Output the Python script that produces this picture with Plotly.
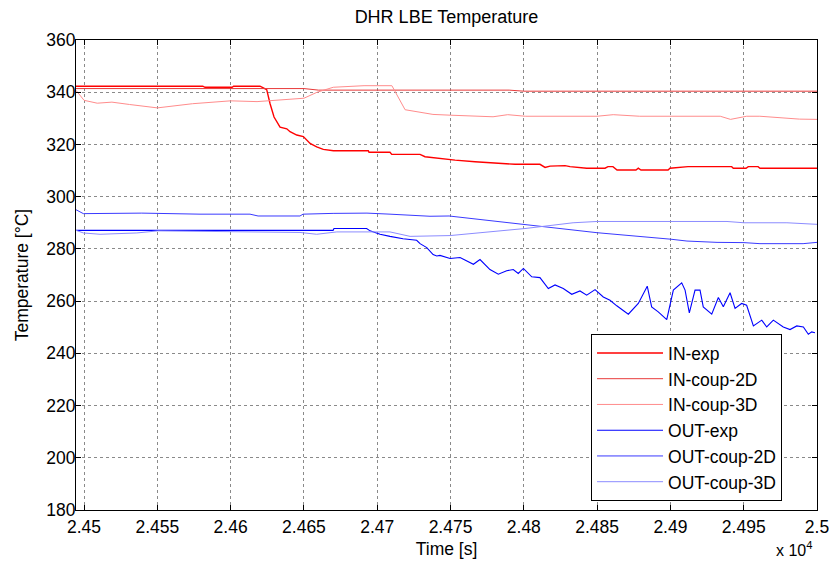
import plotly.graph_objects as go

# ---- data (time in s, temperature in °C) ----
t_in_exp = [24494.5, 24581, 24582.5, 24601, 24602, 24620, 24622.3, 24624.6, 24626.9, 24629.6,
            24633.7, 24638.3, 24640.5, 24645.1, 24649.6, 24654.2, 24658.7, 24663.2, 24670.1,
            24693.9, 24694.4, 24708.7, 24709.9, 24729.2, 24732.6, 24742.8, 24753.1, 24766.7,
            24780.4, 24794.0, 24811.0, 24814.5, 24817.9, 24828.1, 24831.5, 24842.9, 24855.4,
            24857.4, 24860.8, 24863.6, 24876.5, 24878.1, 24879.9, 24898.4, 24899.7, 24912.0,
            24941.8, 24942.9, 24951.6, 24953.1, 24959.8, 24961.1, 25000]
v_in_exp = [342.3, 342.3, 341.9, 341.9, 342.3, 342.3, 341.7, 341.0, 335.6, 330.5,
            326.6, 326.0, 324.9, 323.6, 323.0, 320.4, 319.1, 318.1, 317.6,
            317.6, 317.0, 317.0, 316.2, 316.2, 315.3, 314.6, 314.0, 313.4,
            312.8, 312.4, 312.4, 311.2, 311.7, 311.9, 311.5, 310.9, 310.9,
            311.5, 311.5, 310.2, 310.2, 310.9, 310.2, 310.2, 310.9, 311.5,
            311.5, 310.9, 310.9, 311.5, 311.5, 310.9, 310.9]

t_in_2d = [24494.5, 24650, 24660, 24790, 24800, 25000]
v_in_2d = [341.4, 341.4, 340.8, 340.8, 340.4, 340.4]

t_in_3d = [24494.5, 24500, 24509, 24519, 24531, 24550, 24574, 24600, 24618, 24650, 24659,
           24670, 24691, 24710, 24719, 24738, 24750, 24779, 24789, 24801, 24850, 24861,
           24879, 24934, 24941, 24952, 24961, 24988, 25000]
v_in_3d = [340.7, 336.9, 335.8, 336.2, 335.3, 334.0, 335.6, 336.7, 336.4, 337.7, 340.0,
           341.9, 342.5, 342.5, 333.3, 331.5, 331.2, 330.6, 331.4, 330.8, 330.8, 331.4,
           330.8, 330.8, 329.6, 330.8, 330.8, 329.7, 329.6]

t_out_exp = [24494.5, 24669.9, 24670.5, 24692.8, 24695.1, 24701.9, 24708.7, 24717.6, 24726.9,
             24729.2, 24733.8, 24738.1, 24740.6, 24742.8, 24749.7, 24756.5, 24765.6, 24770.1,
             24776.9, 24782.6, 24788.3, 24792.8, 24796.2, 24799.7, 24805.4, 24811.0, 24816.7,
             24821.3, 24826.9, 24832.7, 24838.3, 24842.9, 24848.6, 24854.2, 24858.8, 24863.4,
             24871.3, 24878.1, 24884.2, 24887.2, 24891.7, 24897.5, 24902.0, 24907.7, 24910.0,
             24912.9, 24916.8, 24920.2, 24922.4, 24928.2, 24932.7, 24936.1, 24940.7, 24944.1,
             24948.6, 24952.0, 24956.6, 24962.3, 24965.7, 24970.2, 24977.0, 24981.6, 24986.2,
             24990.7, 24994.1, 24996.4, 24998.6]
v_out_exp = [287.1, 287.1, 287.8, 287.8, 286.9, 285.6, 284.8, 283.9, 283.3,
             282.0, 280.5, 277.8, 277.3, 277.5, 276.3, 276.7, 274.1, 275.9,
             272.1, 270.3, 271.6, 272.1, 270.6, 272.5, 269.3, 269.0, 264.8,
             266.2, 264.8, 262.6, 263.9, 262.3, 264.4, 261.6, 260.3, 258.2,
             255.0, 259.1, 265.7, 257.8, 255.9, 252.9, 264.2, 267.0, 264.2,
             255.5, 264.2, 264.2, 257.8, 255.0, 261.4, 257.8, 263.2, 257.2,
             259.1, 258.4, 250.5, 252.7, 250.1, 252.7, 250.1, 249.1, 250.5,
             250.1, 247.3, 248.2, 247.9]

t_out_2d = [24494.5, 24499.5, 24539.4, 24579.1, 24613.2, 24618.7, 24647.3, 24649.4, 24669.9,
            24693.0, 24708.7, 24736.0, 24749.0, 24800.8, 24849.9, 24900.4, 24911.3, 24931.8,
            24950.2, 24961.1, 24990.5, 25000]
v_out_2d = [295.0, 293.5, 293.7, 293.3, 293.3, 292.6, 292.6, 293.3, 293.6,
            293.7, 293.3, 292.5, 292.6, 289.3, 286.2, 283.7, 283.0, 282.5,
            282.4, 282.0, 282.0, 282.5]

t_out_3d = [24494.5, 24499.5, 24510.9, 24536.0, 24550.3, 24613.2, 24647.3, 24658.7, 24672.4,
            24708.7, 24722.4, 24749.7, 24800.8, 24833.6, 24849.9, 24938.6, 24950.2, 24979.5, 25000]
v_out_3d = [287.1, 286.1, 285.6, 286.1, 286.9, 286.6, 286.3, 285.6, 286.5,
            286.5, 284.8, 285.1, 287.8, 290.0, 290.5, 290.5, 290.0, 290.0, 289.4]

x_tick_vals = [24500, 24550, 24600, 24650, 24700, 24750, 24800, 24850, 24900, 24950, 25000]
x_tick_text = ["2.45", "2.455", "2.46", "2.465", "2.47", "2.475", "2.48", "2.485", "2.49", "2.495", "2.5"]
y_tick_vals = [180, 200, 220, 240, 260, 280, 300, 320, 340, 360]

series = [
    ("IN-exp", t_in_exp, v_in_exp, "#ff0000", 1.4),
    ("IN-coup-2D", t_in_2d, v_in_2d, "#e83a3a", 1.0),
    ("IN-coup-3D", t_in_3d, v_in_3d, "#ff8c8c", 1.0),
    ("OUT-exp", t_out_exp, v_out_exp, "#0000ff", 1.1),
    ("OUT-coup-2D", t_out_2d, v_out_2d, "#3a3aff", 1.0),
    ("OUT-coup-3D", t_out_3d, v_out_3d, "#8c8cff", 1.0),
]

FONT = "Liberation Sans, Arial, sans-serif"
FS = 17.5

fig = go.Figure()
for i, (name, t, v, c, w) in enumerate(series):
    fig.add_trace(go.Scatter(x=t, y=v, mode="lines", name=name, legendgroup=f"g{i}",
                             line=dict(color=c, width=w)))

axis_common = dict(showline=True, linecolor="black", linewidth=1, mirror="ticks",
                   ticks="inside", ticklen=5, tickcolor="black",
                   showgrid=True, gridcolor="#8a8a8a", griddash="dot", gridwidth=1,
                   zeroline=False, ticklabeloverflow="allow", automargin=False,
                   tickfont=dict(family=FONT, size=FS, color="black"))

fig.update_xaxes(range=[24494.5, 25000], tickvals=x_tick_vals, ticktext=x_tick_text,
                 ticklabelstandoff=1,
                 title=dict(text="Time [s]", font=dict(family=FONT, size=FS, color="black"), standoff=6),
                 **axis_common)
fig.update_yaxes(range=[180, 360], tickvals=y_tick_vals, ticklabelstandoff=-4,
                 title=dict(text="Temperature [°C]", font=dict(family=FONT, size=FS, color="black"), standoff=13),
                 **axis_common)

W, H = 829, 567
fig.update_layout(
    width=W, height=H,
    margin=dict(l=76, r=12, t=40, b=57),
    paper_bgcolor="white", plot_bgcolor="white",
    font=dict(family=FONT, size=FS, color="black"),
    title=dict(text="DHR LBE Temperature", x=(76 + 741 / 2) / W, xanchor="center",
               y=1 - 17 / H, yanchor="middle",
               font=dict(family=FONT, size=18, color="black")),
    showlegend=True,
    legend=dict(x=0.9528, y=0.019, xanchor="right", yanchor="bottom",
                bgcolor="white", bordercolor="black", borderwidth=1,
                font=dict(family=FONT, size=FS, color="black"),
                tracegroupgap=0, itemwidth=66, traceorder="grouped"),
    annotations=[dict(text="x 10<sup>4</sup>", xref="paper", yref="paper", x=0.996, y=-0.084,
                      xanchor="right", yanchor="middle", showarrow=False,
                      font=dict(family=FONT, size=16, color="black"))],
)

# remove the browser's default 8px page margin so the 829x567 figure fills the window
fig.write_html("out.html", config={"displayModeBar": False},
               post_script="document.body.style.margin='0';")
